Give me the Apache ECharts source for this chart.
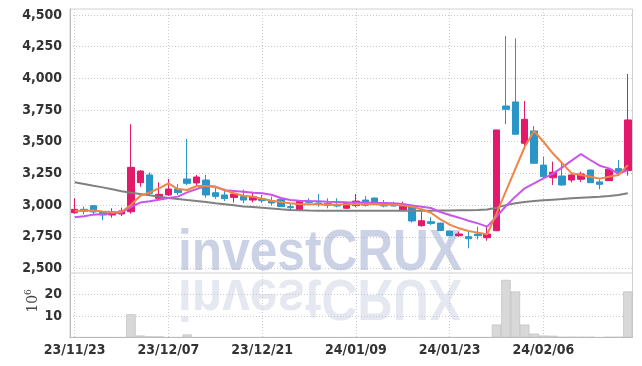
<!DOCTYPE html>
<html><head><meta charset="utf-8">
<script src="https://cdn.jsdelivr.net/npm/echarts@6/dist/echarts.min.js"></script>
<style>html,body{margin:0;padding:0;background:#fff}#c{width:642px;height:366px}</style>
</head><body><div id="c"></div>
<script>
const dates = ['23/11/23','23/11/24','23/11/27','23/11/28','23/11/29','23/11/30','23/12/01','23/12/04','23/12/05','23/12/06',
'23/12/07','23/12/08','23/12/11','23/12/12','23/12/13','23/12/14','23/12/15','23/12/18','23/12/19','23/12/20',
'23/12/21','23/12/22','23/12/26','23/12/27','23/12/28','24/01/02','24/01/03','24/01/04','24/01/05','24/01/08',
'24/01/09','24/01/10','24/01/11','24/01/12','24/01/15','24/01/16','24/01/17','24/01/18','24/01/19','24/01/22',
'24/01/23','24/01/24','24/01/25','24/01/26','24/01/29','24/01/30','24/01/31','24/02/01','24/02/02','24/02/05',
'24/02/06','24/02/07','24/02/08','24/02/13','24/02/14','24/02/15','24/02/16','24/02/19','24/02/20','24/02/21'];
// [open, close, low, high]
const ohlc = [
[2940,2967,2932,3054],[2967,2951,2927,2988],[2995,2946,2922,3000],[2948,2922,2880,2952],[2922,2943,2901,2975],
[2930,2954,2914,2980],[2948,3298,2932,3638],[3177,3269,3145,3276],[3238,3093,3080,3259],[3054,3085,3050,3180],
[3080,3127,3072,3206],[3127,3098,3080,3166],[3206,3172,3159,3522],[3175,3222,3153,3238],[3198,3080,3059,3238],
[3098,3069,3050,3138],[3080,3051,3032,3130],[3061,3088,3020,3100],[3068,3040,3016,3122],[3040,3067,3022,3106],
[3051,3035,3017,3080],[3035,3017,2998,3067],[3046,2988,2985,3050],[2988,2980,2962,3014],[2962,3032,2960,3035],
[3032,3022,3006,3054],[3017,3006,2988,3088],[3014,2998,2975,3054],[3006,2993,2983,3054],[2975,3014,2972,3022],
[2996,3032,2983,3088],[3040,2999,2988,3072],[3056,3014,3010,3058],[3014,2993,2983,3040],[3003,2993,2988,3027],
[2962,2999,2956,3027],[2996,2875,2862,3006],[2838,2877,2830,2948],[2869,2856,2843,2904],[2858,2800,2795,2862],
[2796,2759,2755,2800],[2759,2772,2751,2790],[2751,2735,2659,2790],[2772,2759,2730,2830],[2743,2772,2719,2830],
[2798,3593,2795,3593],[3782,3756,3638,4334],[3814,3559,3559,4316],[3488,3677,3440,3821],[3585,3330,3330,3624],
[3316,3224,3211,3382],[3216,3259,3159,3343],[3230,3159,3151,3330],[3198,3238,3180,3256],[3204,3246,3183,3264],
[3277,3177,3175,3280],[3183,3164,3125,3204],[3193,3283,3190,3285],[3288,3264,3232,3356],[3272,3672,3232,4034]];
// volume, millions of shares
const volumes = [0.1,0.1,0.1,0.1,0.1,0.1,10.8,0.9,0.5,0.5,
0.1,0.1,1.4,0.1,0.1,0.1,0.1,0.1,0.1,0.1,
0.1,0.1,0.1,0.1,0.1,0.1,0.1,0.1,0.1,0.1,
0.1,0.1,0.1,0.1,0.1,0.1,0.1,0.1,0.1,0.1,
0.1,0.1,0.1,0.1,0.1,6,26.8,21.4,6,1.8,
0.9,0.8,0.3,0.3,0.3,0.3,0.1,0.3,0.3,21.4];
const maShort = [2954,2956,2957,2950,2946,2948,3001,3074,3101,3133,
3172,3127,3119,3151,3151,3143,3119,3093,3074,3067,
3051,3035,3025,3014,3006,3006,3006,3003,3003,3006,
3009,3006,3006,3003,3003,2998,2988,2967,2940,2888,
2846,2817,2796,2783,2770,2935,3110,3285,3460,3585,
3500,3409,3330,3251,3238,3224,3209,3224,3238,3316];
const maMid = [2904,2912,2925,2930,2935,2942,2985,3020,3030,3042,
3056,3067,3101,3127,3151,3146,3117,3112,3106,3098,
3093,3082,3056,3040,3035,3032,3030,3027,3025,3022,
3020,3020,3017,3017,3014,3009,2998,2988,2977,2946,
2922,2901,2877,2856,2830,2909,2993,3067,3133,3172,
3211,3246,3298,3351,3403,3356,3311,3290,3246,3277];
const maLong = [3180,3167,3153,3140,3126,3110,3098,3087,3077,3067,
3057,3049,3040,3032,3024,3015,3007,2999,2990,2985,
2979,2973,2967,2962,2959,2957,2956,2956,2956,2956,
2956,2956,2956,2956,2956,2956,2956,2956,2956,2957,
2958,2959,2960,2962,2965,2980,3000,3015,3024,3032,
3038,3043,3048,3054,3059,3063,3067,3072,3080,3093];
const priceTicks = [2500,2750,3000,3250,3500,3750,4000,4250,4500];
const volTicks = [10,20];

const UP = '#e3196b', DOWN = '#2a96c8';
const FONT = "'Liberation Sans Narrow','DejaVu Sans Condensed',sans-serif";
const gridLine = {show:true, lineStyle:{color:'#c6c9d6', width:1, type:[1,2]}};
const labelStyle = {color:'#333', fontFamily:FONT, fontSize:14, fontWeight:'bold'};
const WM_FONT = "bold 58px 'Liberation Sans', sans-serif";

const chart = echarts.init(document.getElementById('c'), null, {renderer:'canvas'});
chart.setOption({
  animation:false,
  backgroundColor:'#fff',
  grid:[
    {left:70, right:9.5, top:9, height:264, outerBoundsMode:'none'},
    {left:70, right:9.5, top:273, height:64.5, outerBoundsMode:'none'}
  ],
  xAxis:[
    {type:'category', gridIndex:0, data:dates, boundaryGap:true,
     axisLine:{show:false}, axisTick:{show:false}, axisLabel:{show:false},
     splitLine:Object.assign({interval:9, alignWithLabel:true}, gridLine)},
    {type:'category', gridIndex:1, data:dates, boundaryGap:true,
     axisLine:{show:true, lineStyle:{color:'#bbb', width:1}},
     axisTick:{show:false},
     axisLabel:Object.assign({interval:9, margin:6}, labelStyle),
     splitLine:Object.assign({interval:9, alignWithLabel:true}, gridLine)}
  ],
  yAxis:[
    {type:'value', gridIndex:0, min:2464.5, max:4547.3, scale:true,
     axisLine:{show:true, lineStyle:{color:'#bbb', width:1}},
     axisTick:{show:false, customValues:priceTicks},
     axisLabel:Object.assign({customValues:priceTicks, margin:8,
       formatter:v=>Number(v).toLocaleString('en-US')}, labelStyle),
     splitLine:gridLine},
    {type:'value', gridIndex:1, min:0, max:30,
     axisLine:{show:true, lineStyle:{color:'#bbb', width:1}},
     axisTick:{show:false, customValues:volTicks},
     axisLabel:Object.assign({customValues:volTicks, margin:8}, labelStyle),
     splitLine:gridLine}
  ],
  graphic:[
    {type:'rect', silent:true, z:-1, shape:{x:70, y:9, width:562.5, height:328.5},
     style:{fill:null, stroke:'#d0d0d0', lineWidth:1}},
    {type:'line', silent:true, z:1, shape:{x1:70, y1:273, x2:632.5, y2:273},
     style:{stroke:'#cfcfcf', lineWidth:1}},
    {type:'text', silent:true, z:1, x:320, y:283, scaleX:0.855,
     style:{text:'investCRUX', font:WM_FONT,
       fill:'rgba(170,180,212,0.6)', textAlign:'center', textVerticalAlign:'bottom'}},
    {type:'text', silent:true, z:1, x:320, y:267, scaleX:0.855, scaleY:-1,
     style:{text:'investCRUX', font:WM_FONT,
       fill:'rgba(195,200,222,0.42)', textAlign:'center', textVerticalAlign:'bottom'}},
    {type:'text', silent:true, x:33, y:301, rotation:Math.PI/2,
     style:{text:'10{s|6}', font:"14px 'DejaVu Serif', serif", fill:'#444',
       textAlign:'center', textVerticalAlign:'middle',
       rich:{s:{fontSize:9, fontFamily:'DejaVu Serif', verticalAlign:'top', padding:[0,0,8,0], fill:'#444'}}}}
  ],
  series:[
    {type:'candlestick', xAxisIndex:0, yAxisIndex:0, data:ohlc, barWidth:7, z:3,
     itemStyle:{color:UP, color0:DOWN, borderColor:UP, borderColor0:DOWN, borderWidth:1}},
    {type:'line', xAxisIndex:0, yAxisIndex:0, data:maLong, symbol:'none', z:4,
     lineStyle:{color:'#808080', width:2}},
    {type:'line', xAxisIndex:0, yAxisIndex:0, data:maMid, symbol:'none', z:4,
     lineStyle:{color:'#c856ea', width:2}},
    {type:'line', xAxisIndex:0, yAxisIndex:0, data:maShort, symbol:'none', z:5,
     lineStyle:{color:'#ef8648', width:2}},
    {type:'bar', xAxisIndex:1, yAxisIndex:1, data:volumes, barWidth:'100%', barCategoryGap:0,
     itemStyle:{color:'#d8d8d8', borderColor:'#b8b8b8', borderWidth:0.6}}
  ]
});
</script></body></html>
